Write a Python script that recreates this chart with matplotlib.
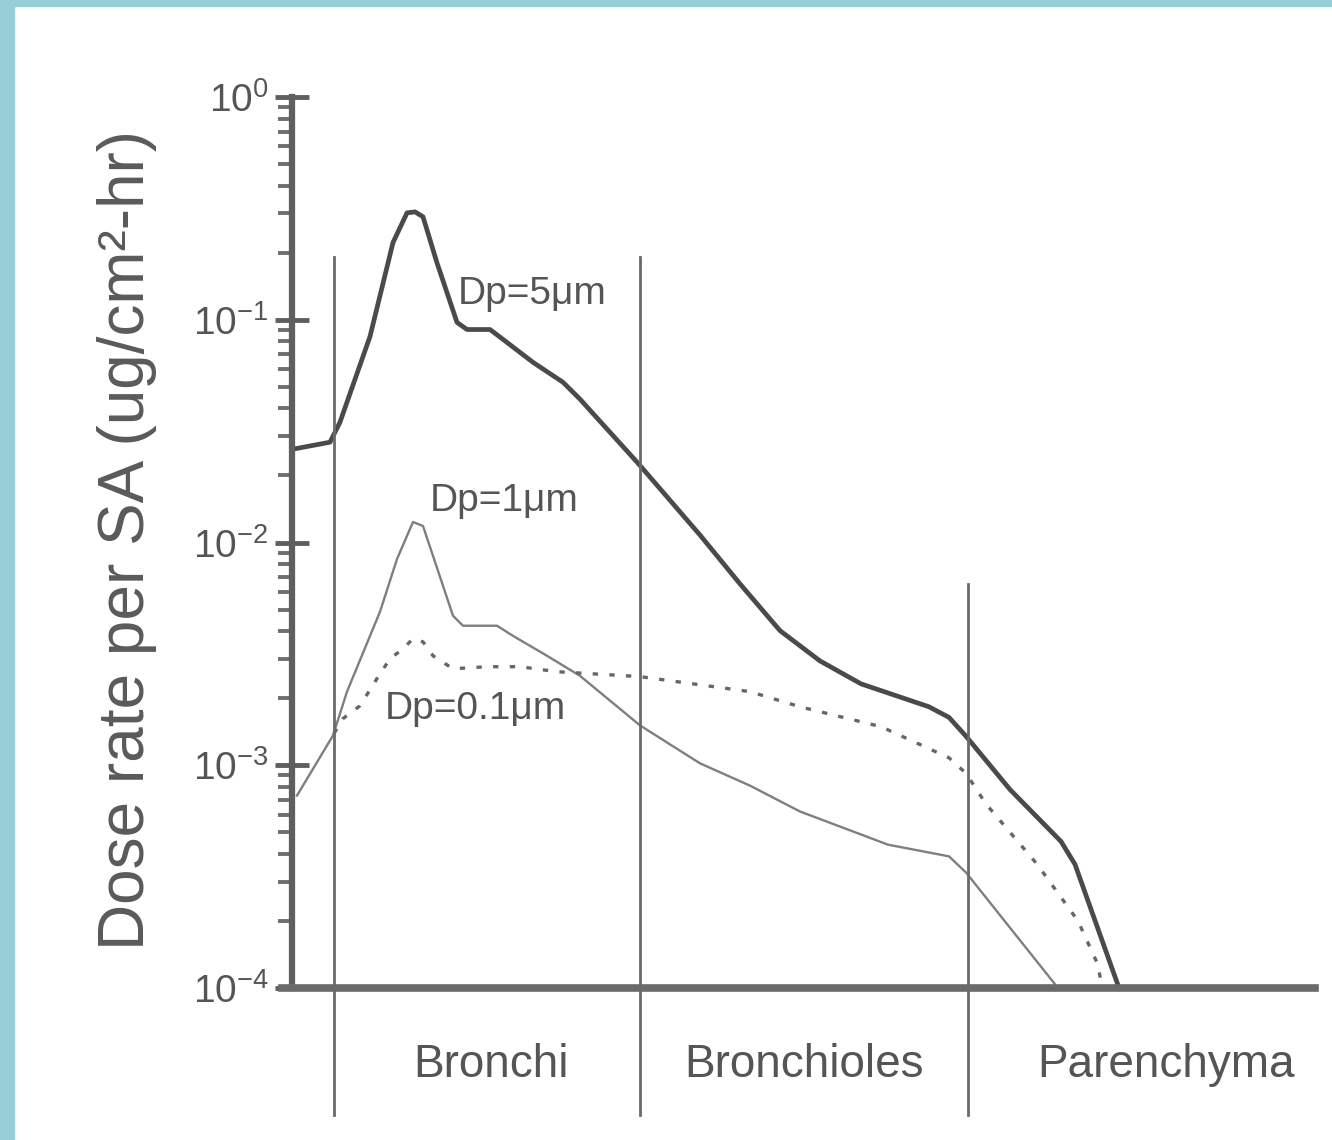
import matplotlib
matplotlib.use("Agg")
import matplotlib.pyplot as plt
import matplotlib.ticker as mticker
from matplotlib.patches import Rectangle

# position along the airway (arbitrary units) and dose rate values
x_5um = [0, 3.8, 4.8, 7.8, 10.1, 11.5, 12.3, 13.1, 14.5, 16.5, 17.5, 19.8, 21.5,
         24.1, 27.1, 28.8, 34.6, 40.8, 44.8, 48.8, 52.8, 56.9, 63.7, 65.7, 67.4,
         71.8, 76.9, 78.3, 82.7]
y_5um = [0.0262, 0.0282, 0.0347, 0.0841, 0.222, 0.302, 0.305, 0.290, 0.180,
         0.0973, 0.0904, 0.0904, 0.0791, 0.0644, 0.0524, 0.0440, 0.0227, 0.0108,
         0.00652, 0.00402, 0.00294, 0.00232, 0.00183, 0.00164, 0.00135,
         0.000778, 0.000455, 0.000359, 0.0001]

x_1um = [0.5, 4.1, 5.5, 8.8, 10.5, 12.1, 13.1, 14.1, 16.1, 17.1, 20.5, 22.1,
         25.5, 28.8, 34.8, 40.8, 45.8, 50.8, 59.6, 65.7, 67.4, 76.6]
y_1um = [0.000731, 0.00136, 0.00214, 0.00489, 0.00843, 0.01236, 0.01186,
         0.00871, 0.00469, 0.00423, 0.00423, 0.00381, 0.00310, 0.00252,
         0.00151, 0.00102, 0.00081, 0.00062, 0.00044, 0.00039, 0.00033, 0.0001]

x_01um = [4.2, 5.1, 6.8, 8.5, 9.8, 11.1, 12.1, 13.1, 14.1, 16.1, 19.5, 22.8,
          26.5, 34.8, 45.8, 50.8, 58.9, 65.7, 67.4, 69.4, 74.5, 78.6, 80.6, 81.0]
y_01um = [0.00139, 0.00162, 0.00185, 0.00245, 0.00301, 0.00333, 0.00370,
          0.00358, 0.00310, 0.00271, 0.00277, 0.00277, 0.00263, 0.00250,
          0.00214, 0.00183, 0.00149, 0.00108, 0.00092, 0.00067, 0.00036,
          0.00020, 0.000127, 0.0001]

region_bounds = [4.2, 34.8, 67.6]
region_tops = [0.82, 0.82, 0.4535]
regions = ["Bronchi", "Bronchioles", "Parenchyma"]
region_centers = [19.9, 51.2, 87.4]

font = "Liberation Sans"
grey = "#555555"

fig = plt.figure(figsize=(13.32, 11.4), dpi=100)
fig.patches.append(Rectangle((0, 0), 14 / 1332, 1, transform=fig.transFigure,
                             color="#96cfd5", zorder=-1))
fig.patches.append(Rectangle((0, 1 - 6 / 1140), 1, 6 / 1140, transform=fig.transFigure,
                             color="#96cfd5", zorder=-1))

ax = fig.add_axes([292 / 1332, 1 - 988 / 1140, (1315 - 292) / 1332, (988 - 97) / 1140])
ax.set_yscale("log")
ax.set_xlim(0, 102.3)
ax.set_ylim(1e-4, 1)

ax.plot(x_5um, y_5um, color="#4a4a4a", lw=3.4, solid_joinstyle="round")
ax.plot(x_1um, y_1um, color="#7f7f7f", lw=1.7, solid_joinstyle="round")
ax.plot(x_01um, y_01um, color="#666666", lw=2.4, ls=(0, (1.6, 3.4)))

trans = ax.get_xaxis_transform()
for xb, top in zip(region_bounds, region_tops):
    ax.plot([xb, xb], [-0.142, top], transform=trans, color="#6a6a6a", lw=2,
            clip_on=False)
for name, xc in zip(regions, region_centers):
    ax.text(xc, -0.086, name, transform=trans, ha="center", va="center",
            family=font, fontsize=33, color=grey)

ax.text(16.6, 0.130, "Dp=5\u03bcm", va="center", family=font, fontsize=28, color=grey)
ax.text(13.8, 0.01534, "Dp=1\u03bcm", va="center", family=font, fontsize=28, color=grey)
ax.text(9.3, 0.001795, "Dp=0.1\u03bcm", va="center", family=font, fontsize=28, color=grey)

for side in ["top", "right"]:
    ax.spines[side].set_visible(False)
ax.spines["left"].set_linewidth(4.5)
ax.spines["left"].set_color("#5f5f5f")
ax.spines["bottom"].set_linewidth(5.5)
ax.spines["bottom"].set_color("#6a6a6a")
ax.spines["bottom"].set_bounds(-1.0, 102.3)

ax.set_xticks([])
ax.yaxis.set_major_locator(mticker.LogLocator(base=10, numticks=10))
ax.yaxis.set_minor_locator(mticker.LogLocator(base=10, subs=range(2, 10), numticks=10))
ax.yaxis.set_minor_formatter(mticker.NullFormatter())
ax.tick_params(axis="y", which="major", direction="inout", length=24, width=3.5,
               color="#5f5f5f", labelsize=28, labelcolor=grey, pad=5)
ax.tick_params(axis="y", which="minor", direction="out", length=10, width=2.8,
               color="#6f6f6f")
for lab in ax.get_yticklabels():
    lab.set_family(font)

fig.text(127 / 1332, 1 - 540 / 1140, "Dose rate per SA (ug/cm\u00b2-hr)",
         rotation=90, ha="center", va="center", family=font,
         fontsize=46, color="#5a5a5a")

fig.savefig("out.png", dpi=100, facecolor="white")
